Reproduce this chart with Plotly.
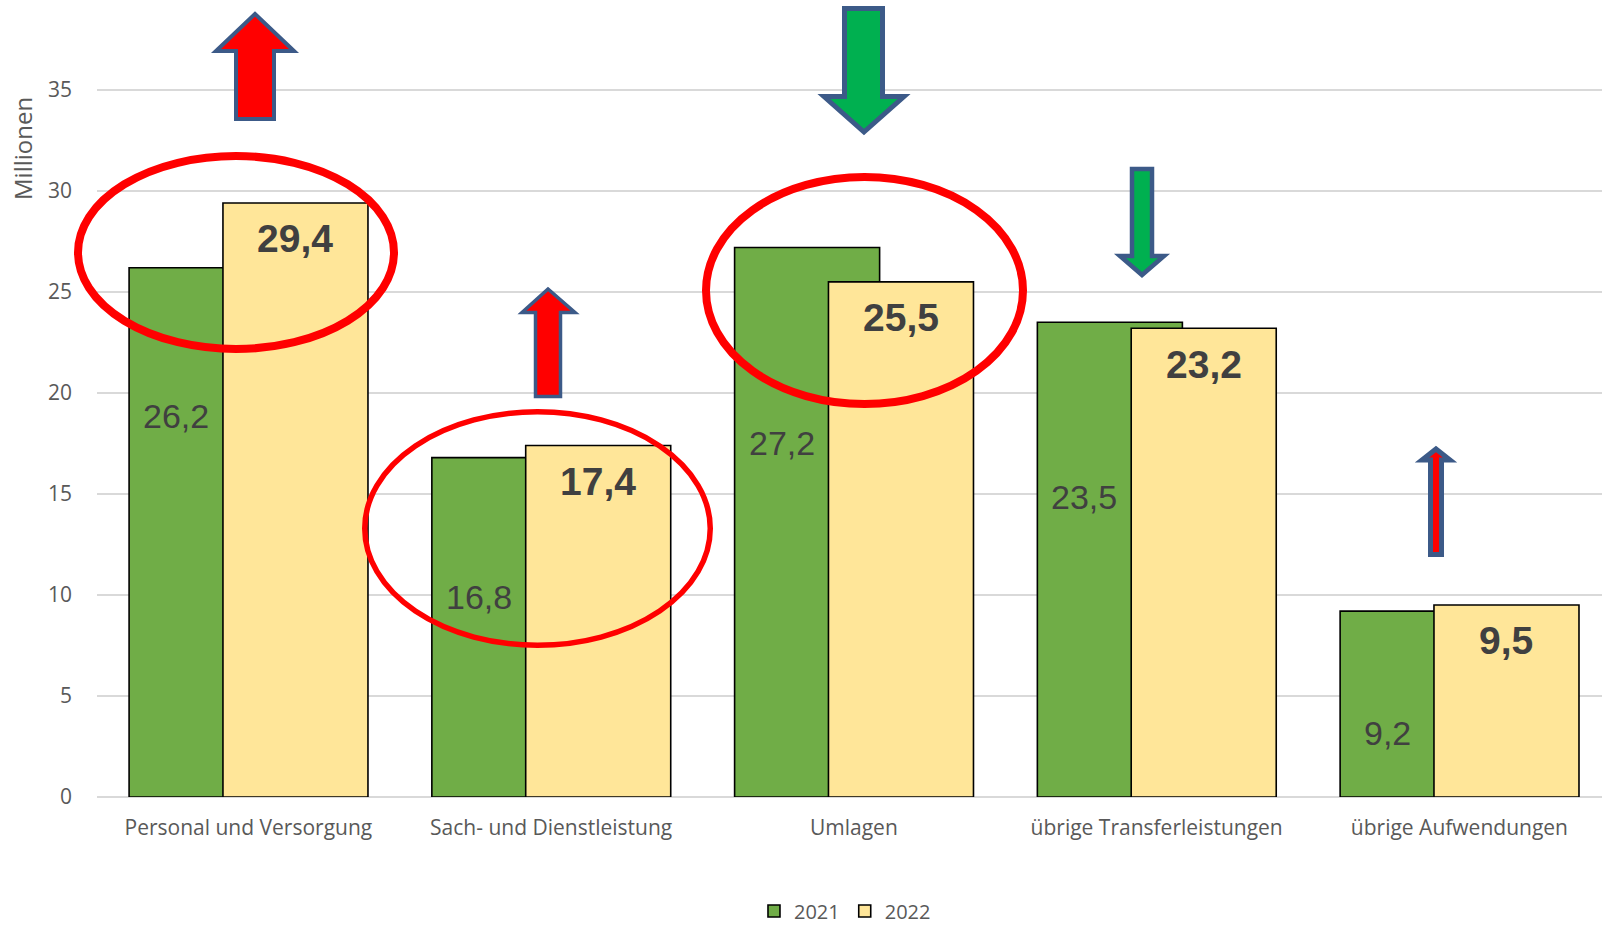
import plotly.graph_objects as go

# ---------------- data ----------------
categories = ["Personal und Versorgung", "Sach- und Dienstleistung", "Umlagen",
              "übrige Transferleistungen", "übrige Aufwendungen"]
values_2021 = [26.2, 16.8, 27.2, 23.5, 9.2]
values_2022 = [29.4, 17.4, 25.5, 23.2, 9.5]
series_names = ["2021", "2022"]
y_tick_values = [0, 5, 10, 15, 20, 25, 30, 35]
y_title = "Millionen"

# manual label heights of the 2021 labels (as placed in the original)
label_y_2021 = [18.85, 9.9, 17.5, 14.85, 3.17]

# ---------------- geometry ----------------
W, H = 1602, 927
ML, MR, MT, MB = 97, 0, 0, 130
PW, PH = W - ML - MR, H - MT - MB
XR = [-0.5, 4.471]
YR = [0, 39.45]
BAR_W = 0.479
OFF_2021 = -0.394
OFF_2022 = -0.084

FONT_AX = "Open Sans"
FONT_LBL = "Liberation Sans, Arial"


def fmt(v):
    return f"{v:.1f}".replace(".", ",")


def pp(x, y):
    """pixel position -> paper coordinates"""
    return (x - ML) / PW, (H - MB - y) / PH


fig = go.Figure()
fig.add_trace(go.Bar(
    x=categories, y=values_2021, name=series_names[0],
    width=BAR_W, offset=OFF_2021,
    marker=dict(color="#70AD47", line=dict(color="#000000", width=1.6)),
))
fig.add_trace(go.Bar(
    x=categories, y=values_2022, name=series_names[1],
    width=BAR_W, offset=OFF_2022,
    marker=dict(color="#FFE699", line=dict(color="#000000", width=1.6)),
))

annotations = []
for i, v in enumerate(values_2021):
    annotations.append(dict(
        x=i + OFF_2021 + (OFF_2022 - OFF_2021) / 2, y=label_y_2021[i],
        xref="x", yref="y", text=fmt(v), showarrow=False,
        font=dict(family=FONT_LBL, size=34, color="#404040"),
        xanchor="center", yanchor="middle"))
for i, v in enumerate(values_2022):
    annotations.append(dict(
        x=i + OFF_2022 + BAR_W / 2, y=v - 1.77,
        xref="x", yref="y", text="<b>" + fmt(v) + "</b>", showarrow=False,
        font=dict(family=FONT_LBL, size=39, color="#404040"),
        xanchor="center", yanchor="middle"))

tx, ty = pp(22, 149)
annotations.append(dict(
    x=tx, y=ty, xref="paper", yref="paper", text=y_title, showarrow=False,
    textangle=-90, font=dict(family=FONT_AX, size=24, color="#595959"),
    xanchor="center", yanchor="middle"))

shapes = []


def ellipse(x0, y0, x1, y1, w):
    a, b = pp(x0, y1)
    c, d = pp(x1, y0)
    shapes.append(dict(type="circle", xref="paper", yref="paper",
                       x0=a, y0=b, x1=c, y1=d,
                       line=dict(color="#FF0000", width=w), layer="above"))


ellipse(78, 156, 394, 349, 8)
ellipse(364.75, 411.75, 710.25, 645.25, 5.5)
ellipse(706, 177, 1023, 404, 8)


def path_from(points):
    s = ""
    for k, (x, y) in enumerate(points):
        a, b = pp(x, y)
        s += ("M" if k == 0 else "L") + f"{a:.5f},{b:.5f} "
    return s + "Z"


def arrow_up(tipx, tipy, head_y, hx0, hx1, sx0, sx1, bottom):
    return [(tipx, tipy), (hx1, head_y), (sx1, head_y), (sx1, bottom),
            (sx0, bottom), (sx0, head_y), (hx0, head_y)]


def arrow_down(tipx, tipy, head_y, hx0, hx1, sx0, sx1, top):
    return [(tipx, tipy), (hx1, head_y), (sx1, head_y), (sx1, top),
            (sx0, top), (sx0, head_y), (hx0, head_y)]


OUT = "#3C5A88"
arrows = [
    (arrow_up(255, 14, 51, 216, 294, 236, 274, 119), "#FF0000", 4),
    (arrow_up(548, 289, 312.5, 522, 575, 535.5, 560.5, 396.5), "#FF0000", 3.5),
    (arrow_down(864, 132, 96.5, 824, 904, 844.5, 882.5, 8.5), "#00B050", 5),
    (arrow_down(1142, 275, 256, 1120, 1164, 1132, 1152, 169), "#00B050", 4.5),
    (arrow_up(1436, 449, 460, 1422, 1450, 1430.5, 1441.5, 554.5), "#FF0000", 5),
]
for pts, fill, w in arrows:
    shapes.append(dict(type="path", xref="paper", yref="paper",
                       path=path_from(pts), fillcolor=fill,
                       line=dict(color=OUT, width=w), layer="above"))

legend_y_container = (H - 911) / H

fig.update_layout(
    width=W, height=H,
    margin=dict(l=ML, r=MR, t=MT, b=MB, pad=0),
    paper_bgcolor="white", plot_bgcolor="white",
    barmode="overlay",
    showlegend=True,
    legend=dict(orientation="h", xref="paper", x=0.497, xanchor="center",
                yref="container", y=legend_y_container, yanchor="middle",
                font=dict(family=FONT_AX, size=20, color="#595959"),
                traceorder="normal", itemwidth=30),
    xaxis=dict(range=XR, showgrid=False, zeroline=False, showline=False,
               ticks="", tickfont=dict(family=FONT_AX, size=21, color="#595959"),
               ticklabelstandoff=16, automargin=False),
    yaxis=dict(range=YR, tickvals=y_tick_values, showgrid=True,
               gridcolor="#D9D9D9", gridwidth=1.5,
               zeroline=True, zerolinecolor="#D9D9D9", zerolinewidth=1.5,
               showline=False, ticks="",
               tickfont=dict(family=FONT_AX, size=21, color="#595959"),
               ticklabelstandoff=24, automargin=False),
    annotations=annotations,
    shapes=shapes,
    font=dict(family=FONT_AX),
)

fig.write_html("out.html",
               config={"displayModeBar": False},
               post_script="document.body.style.margin='0';document.body.style.overflow='hidden';")
